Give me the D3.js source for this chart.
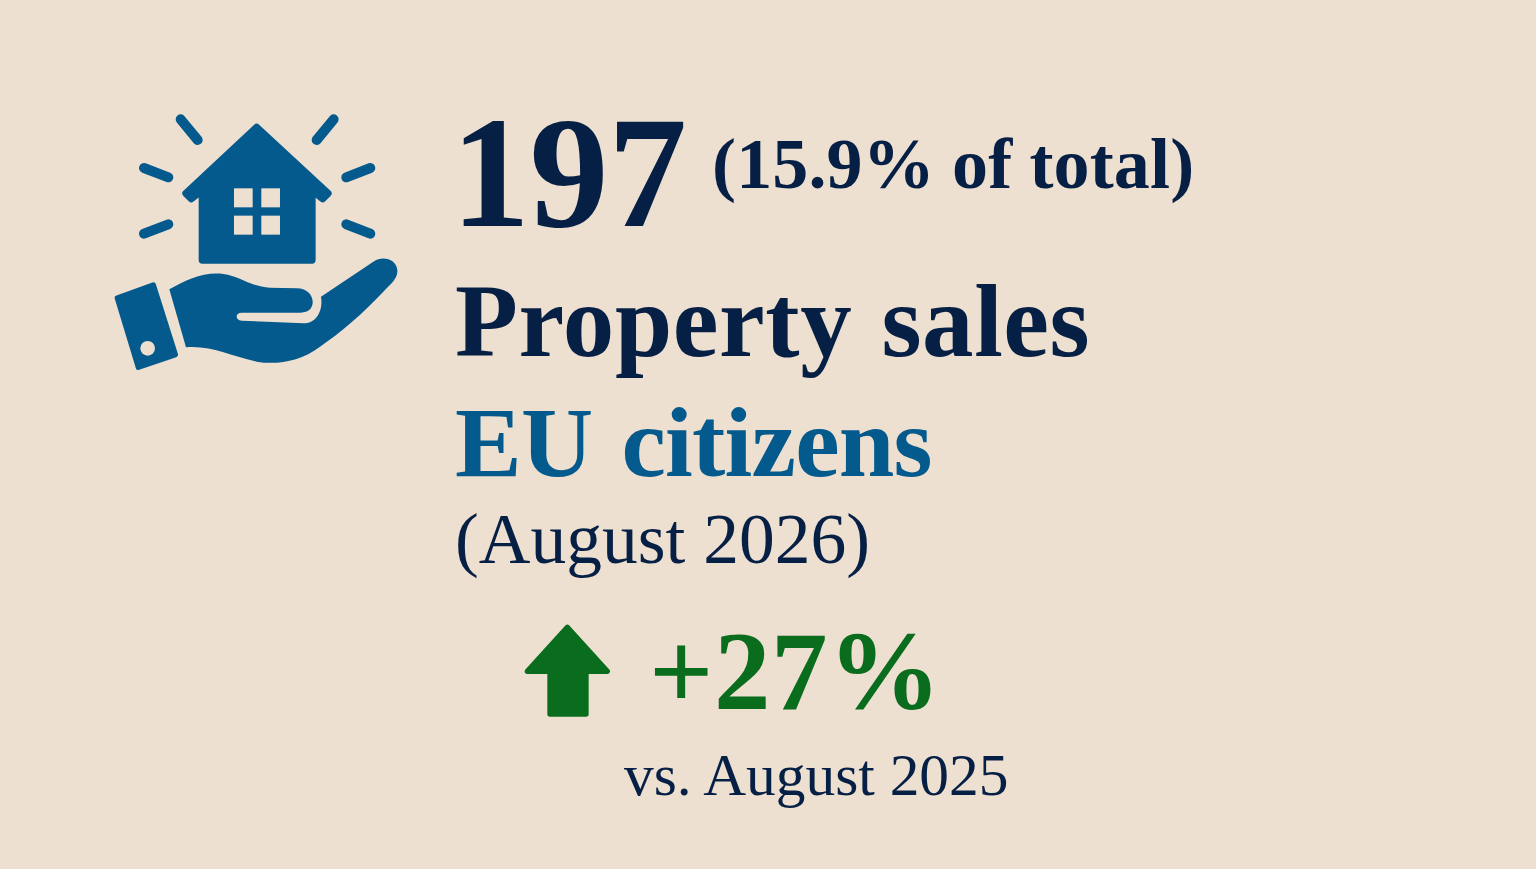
<!DOCTYPE html>
<html>
<head>
<meta charset="utf-8">
<script src="https://cdn.jsdelivr.net/npm/d3@7"></script>
<style>
html, body { margin: 0; padding: 0; background: #eee0d0; overflow: hidden; }
svg { display: block; }
text { font-family: "Liberation Serif", serif; }
</style>
</head>
<body>
<svg id="chart"></svg>
<script>
const width = 1536;
const height = 869;

// figures shown on the card
const salesCount = [197];
const salesShare = [15.9];
const yearChange = [27];
const periods = ["August 2026", "August 2025"];
const titles = ["Property sales", "EU citizens"];

const navy = "#061f45";
const blue = "#045a8d";
const green = "#0a6c1d";
const paper = "#eee0d0";

const svg = d3.select("#chart")
    .attr("width", width)
    .attr("height", height);

svg.append("rect")
    .attr("width", width)
    .attr("height", height)
    .attr("fill", paper);

// text blocks
const labels = [
    {t: `${salesCount[0]}`, x: 451, y: 226, size: 158, bold: true, fill: navy, ls: -0.5},
    {t: `(${salesShare[0]}% of total)`, x: 712, y: 188, size: 72, bold: true, fill: navy, ls: 0.15, ws: -1},
    {t: titles[0], x: 455, y: 356, size: 103, bold: true, fill: navy, ls: 0.55, ws: 3},
    {t: titles[1], x: 455, y: 476, size: 100, bold: true, fill: blue, ls: -0.8, ws: 5},
    {t: `(${periods[0]})`, x: 455, y: 563, size: 71.5, bold: false, fill: navy, ls: 0},
    {t: `+${yearChange[0]}%`, x: 649, y: 709, size: 113, bold: true, fill: green, ls: 0.5},
    {t: `vs. ${periods[1]}`, x: 624, y: 795, size: 59.4, bold: false, fill: navy, ls: 0}
];

svg.selectAll("text.label")
    .data(labels)
    .join("text")
    .attr("class", "label")
    .attr("x", d => d.x)
    .attr("y", d => d.y)
    .attr("fill", d => d.fill)
    .style("font-size", d => d.size + "px")
    .style("font-weight", d => d.bold ? "700" : "400")
    .style("letter-spacing", d => d.ls + "px")
    .style("word-spacing", d => (d.ws || 0) + "px")
    .text(d => d.t);

// icon is traced in a 3x space, so it gets scaled back down
const icon = svg.append("g")
    .attr("transform", "translate(100,100) scale(0.3333)");

const rays = [
    [242, 58, 293, 120], [701, 58, 650, 120],
    [132, 204, 205, 232], [811, 204, 739, 232],
    [132, 401, 205, 373], [811, 401, 739, 373]
];

icon.selectAll("line")
    .data(rays)
    .join("line")
    .attr("x1", d => d[0])
    .attr("y1", d => d[1])
    .attr("x2", d => d[2])
    .attr("y2", d => d[3])
    .attr("stroke", blue)
    .attr("stroke-width", 30)
    .attr("stroke-linecap", "round");

// house
icon.append("path")
    .attr("d", "M470 82 L684 280 L668 296 L636 270 L636 480 L307 480 L307 270 L274 296 L258 280 Z")
    .attr("fill", blue)
    .attr("stroke", blue)
    .attr("stroke-width", 22)
    .attr("stroke-linejoin", "round");

const panes = [[402, 265], [484, 265], [402, 347], [484, 347]];
icon.selectAll("rect.pane")
    .data(panes)
    .join("rect")
    .attr("class", "pane")
    .attr("x", d => d[0])
    .attr("y", d => d[1])
    .attr("width", 56)
    .attr("height", 57)
    .attr("fill", paper);

// cuff
icon.append("path")
    .attr("d", "M52 594 L160 555 L226 764 L115 802 Z")
    .attr("fill", blue)
    .attr("stroke", blue)
    .attr("stroke-width", 16)
    .attr("stroke-linejoin", "round");

icon.append("circle")
    .attr("cx", 143)
    .attr("cy", 745)
    .attr("r", 22)
    .attr("fill", paper);

// hand
icon.append("path")
    .attr("d", "M208 568 C260 540 310 515 370 522 C420 528 450 560 510 563 L590 565 C625 565 640 590 638 610 C636 630 620 638 600 638 L425 638 C405 638 405 660 425 662 L610 670 C650 670 670 630 663 590 L820 485 C850 465 890 480 892 510 C895 535 870 555 855 570 C790 640 720 700 660 740 C600 785 530 795 470 785 C400 770 330 735 258 742 Z")
    .attr("fill", blue);

// green arrow, traced in zoom space as well
svg.append("g")
    .attr("transform", "translate(510,610) scale(0.3333)")
    .append("path")
    .attr("d", "M172 52 L292 184 L228 184 L228 312 L120 312 L120 184 L52 184 Z")
    .attr("fill", green)
    .attr("stroke", green)
    .attr("stroke-width", 16)
    .attr("stroke-linejoin", "round");
</script>
</body>
</html>
